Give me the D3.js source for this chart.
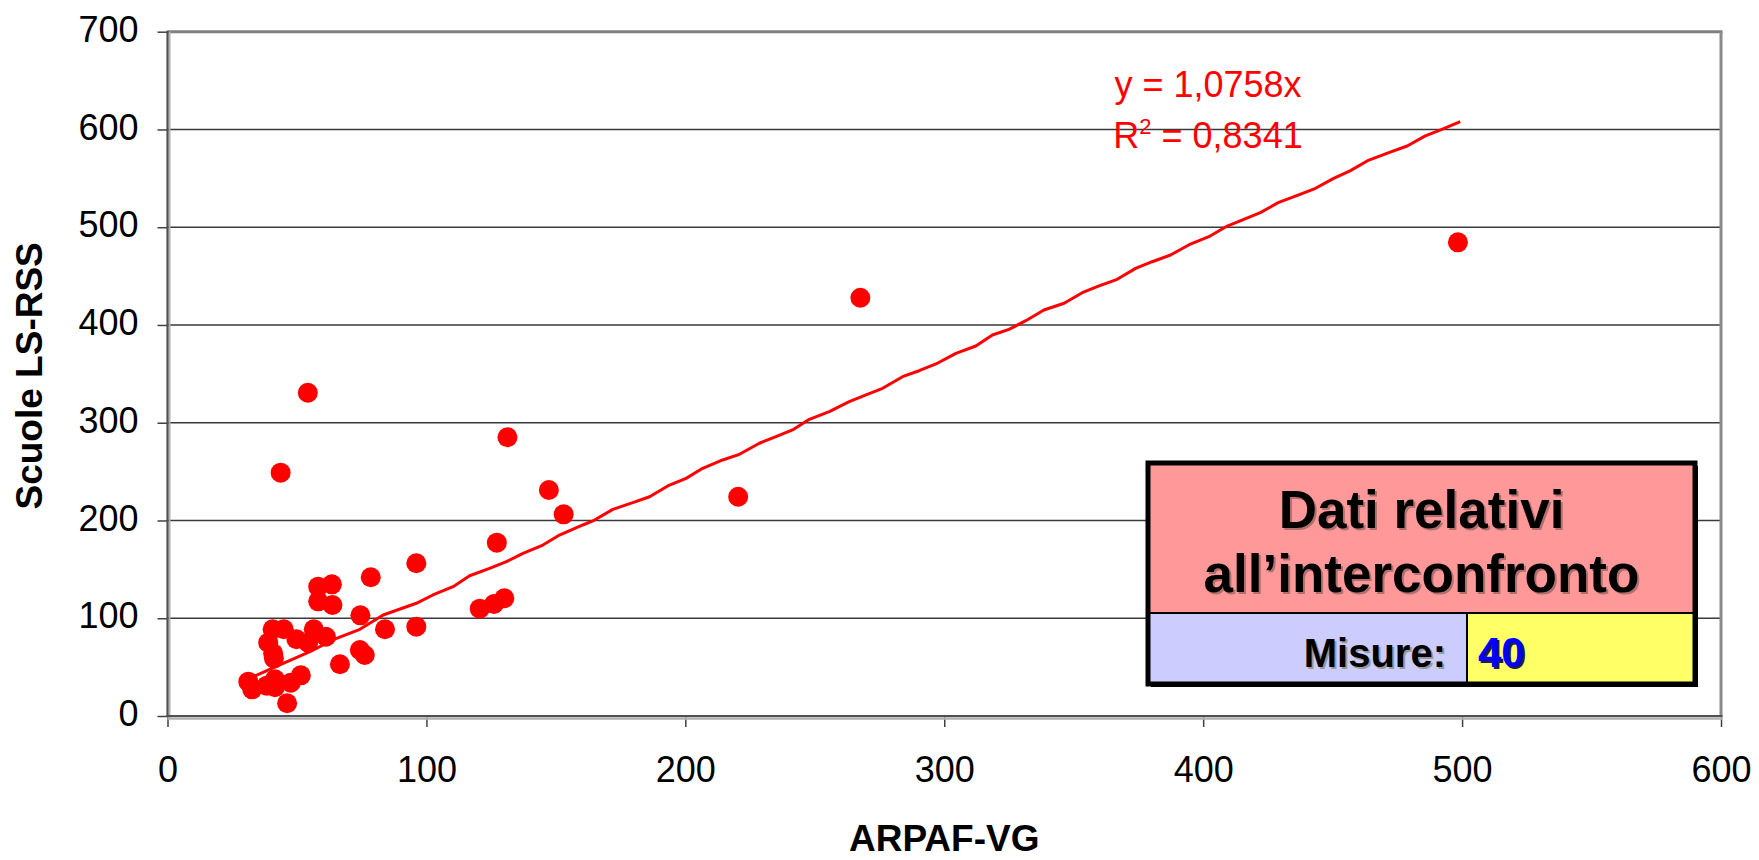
<!DOCTYPE html>
<html>
<head>
<meta charset="utf-8">
<script src="https://cdn.jsdelivr.net/npm/d3@7"></script>
<style>
	body { margin: 0; background: #fff; }
	text { font-family: "Liberation Sans", Arial, sans-serif; }
</style>
</head>
<body>
<div class="scatter-plot"></div>
<script>
// measured points (ARPAF-VG, Scuole LS-RSS)
const arpaf = [31.2, 32.7, 38.3, 38.9, 40.6, 40.8, 41.1, 41.5, 41.5, 43.7, 44.9, 46.2, 47.6, 49.8, 51.5, 54.3, 54.2, 56.5, 58.2, 58.2, 61.2, 63.5, 63.7, 66.6, 74.3, 74.5, 76.2, 78.5, 84, 96.1, 96.1, 120.6, 126.1, 127.2, 130.1, 131.3, 147.3, 153, 220.4, 267.6, 498.4];
const scuole = [35.1, 27.3, 31, 75, 88.7, 64.1, 59, 37.5, 29.4, 248.9, 88.7, 13, 34.1, 78.5, 41.6, 75, 330.7, 88.7, 132.3, 117.3, 81.1, 134.7, 113.5, 52.9, 67.5, 103, 62.4, 141.9, 88.7, 156.2, 91.4, 109.8, 114.6, 177.3, 120.4, 285.1, 231.2, 206.3, 224.3, 427.9, 484.5];

// trend line vertices as drawn in the picture
const trendX = [33.1, 44.7, 55, 65.3, 74.3, 83.3, 96.1, 102.5, 110.3, 116.7, 124.4, 130.9, 137.3, 145, 151.4, 160.4, 164.3, 172, 179.7, 186.2, 193.2, 200.3, 206.7, 214.4, 220.9, 228.6, 235, 241.4, 247.9, 255.6, 263.3, 269.8, 276.2, 283.9, 290.3, 296.8, 304.5, 312.2, 318.6, 325, 331.5, 338.5, 346.3, 353.3, 359.8, 366.8, 373.9, 380.3, 387.4, 395.1, 402.2, 409.3, 415.7, 422.1, 429.2, 436.9, 443.4, 450.4, 456.9, 464, 471.7, 478.8, 485.8, 492.2, 499.3];
const trendY = [40.2, 53.9, 65.8, 79.5, 88.7, 103.3, 115.3, 123.8, 132.3, 143.5, 151, 157.9, 166.4, 174.9, 185.1, 195.4, 199.5, 211.4, 218.2, 224.3, 235.3, 243.1, 253.4, 261.9, 267.7, 279, 285.7, 292.6, 303.5, 311.3, 321.5, 328.4, 335.2, 347.1, 353.2, 360.1, 371, 378.5, 389.7, 395.5, 404.4, 415.3, 422.2, 433, 439.9, 446.7, 457.9, 464.7, 471.6, 482.8, 490.3, 501.2, 508.1, 514.9, 525.5, 533, 539.8, 550, 557.9, 568.7, 576.3, 583.1, 593.4, 600.1, 607.9];

const xTicks = [0, 100, 200, 300, 400, 500, 600];
const yTicks = [0, 100, 200, 300, 400, 500, 600, 700];
const trendLabels = ["y = 1,0758x", "0,8341"];
const boxTitle = ["Dati relativi", "all\u2019interconfronto"];
const misure = 40;

function charting() {
	const width = 1759;
	const height = 860;
	const left = 167.5, right = 1721, top = 31.7, bottom = 716;

	const svg = d3.select('.scatter-plot')
		.append('svg')
		.attr('width', width)
		.attr('height', height);

	const x = d3.scaleLinear().domain([0, 600]).range([left, right]);
	const y = d3.scaleLinear().domain([0, 700]).range([bottom, top]);

	// gridlines
	svg.selectAll('.grid')
		.data(yTicks.filter(d => d > 0 && d < 700))
		.enter()
		.append('line')
		.attr('x1', left).attr('x2', right)
		.attr('y1', d => y(d)).attr('y2', d => y(d))
		.attr('stroke', '#3a3a3a')
		.attr('stroke-width', 1.5);

	// plot frame top / right
	svg.append('line')
		.attr('x1', left).attr('x2', right + 1.5)
		.attr('y1', y(700)).attr('y2', y(700))
		.attr('stroke', '#808080').attr('stroke-width', 3);
	svg.append('line')
		.attr('x1', right).attr('x2', right)
		.attr('y1', y(700)).attr('y2', bottom)
		.attr('stroke', '#8a8a8a').attr('stroke-width', 3);

	// axes
	const yAxis = svg.append('g')
		.attr('transform', `translate(${left},0)`)
		.call(d3.axisLeft(y).tickValues(yTicks).tickSize(10).tickPadding(19));
	const xAxis = svg.append('g')
		.attr('transform', `translate(0,${bottom})`)
		.call(d3.axisBottom(x).tickValues(xTicks).tickSize(11).tickPadding(29));

	[yAxis, xAxis].forEach(g => {
		g.select('.domain').remove();
		g.selectAll('line').attr('stroke', '#404040').attr('stroke-width', 1.5);
		g.selectAll('text')
			.attr('fill', '#000')
			.style('font-size', '36px')
			.style('font-family', '"Liberation Sans", Arial, sans-serif');
	});
	yAxis.selectAll('text').attr('dy', '0.27em');

	// axis lines with light shadow
	svg.append('line')
		.attr('x1', left + 2).attr('x2', left + 2)
		.attr('y1', y(700)).attr('y2', bottom + 2)
		.attr('stroke', '#b0b0b0').attr('stroke-width', 2);
	svg.append('line')
		.attr('x1', left).attr('x2', left)
		.attr('y1', y(700) - 1).attr('y2', bottom)
		.attr('stroke', '#505050').attr('stroke-width', 2.2);
	svg.append('line')
		.attr('x1', left).attr('x2', right + 1.5)
		.attr('y1', bottom + 2.5).attr('y2', bottom + 2.5)
		.attr('stroke', '#b0b0b0').attr('stroke-width', 2.5);
	svg.append('line')
		.attr('x1', left - 1).attr('x2', right + 1.5)
		.attr('y1', bottom).attr('y2', bottom)
		.attr('stroke', '#505050').attr('stroke-width', 2.2);

	// axis titles
	svg.append('text')
		.attr('x', (left + right) / 2)
		.attr('y', 851)
		.attr('text-anchor', 'middle')
		.style('font-size', '37px')
		.style('font-weight', 'bold')
		.text('ARPAF-VG');
	svg.append('text')
		.attr('transform', `translate(42,${(top + bottom) / 2 + 2}) rotate(-90)`)
		.attr('text-anchor', 'middle')
		.style('font-size', '37px')
		.style('font-weight', 'bold')
		.text('Scuole LS-RSS');

	// points
	const points = arpaf.map((d, i) => ({ x: d, y: scuole[i] }));
	svg.selectAll('circle')
		.data(points)
		.enter()
		.append('circle')
		.attr('cx', d => x(d.x))
		.attr('cy', d => y(d.y))
		.attr('r', 10)
		.attr('fill', '#ff0000');

	// trend line
	const trend = trendX.map((d, i) => [d, trendY[i]]);
	svg.append('path')
		.datum(trend)
		.attr('d', d3.line().x(d => x(d[0])).y(d => y(d[1])))
		.attr('fill', 'none')
		.attr('stroke', '#ff0000')
		.attr('stroke-width', 3)
		.attr('stroke-linejoin', 'round');

	// trend label
	svg.append('text')
		.attr('x', 1208).attr('y', 97)
		.attr('text-anchor', 'middle')
		.attr('fill', '#ff0000')
		.style('font-size', '36px')
		.text(trendLabels[0]);
	const r2 = svg.append('text')
		.attr('x', 1208).attr('y', 148)
		.attr('text-anchor', 'middle')
		.attr('fill', '#ff0000')
		.style('font-size', '36px');
	r2.append('tspan').text('R');
	r2.append('tspan').attr('dy', -14).style('font-size', '22px').text('2');
	r2.append('tspan').attr('dy', 14).text(' = ' + trendLabels[1]);

	// info box
	const bx0 = 1148, bx1 = 1695, by0 = 463, by1 = 684, bmid = 613, bcol = 1467;
	svg.append('rect')
		.attr('x', bx0 + 3).attr('y', by0 + 3)
		.attr('width', bx1 - bx0).attr('height', by1 - by0)
		.attr('fill', '#000');
	svg.append('rect')
		.attr('x', bx0).attr('y', by0)
		.attr('width', bx1 - bx0).attr('height', bmid - by0)
		.attr('fill', '#ff9999');
	svg.append('rect')
		.attr('x', bx0).attr('y', bmid)
		.attr('width', bcol - bx0).attr('height', by1 - bmid)
		.attr('fill', '#ccccff');
	svg.append('rect')
		.attr('x', bcol).attr('y', bmid)
		.attr('width', bx1 - bcol).attr('height', by1 - bmid)
		.attr('fill', '#ffff66');
	svg.append('line')
		.attr('x1', bx0).attr('x2', bx1)
		.attr('y1', bmid).attr('y2', bmid)
		.attr('stroke', '#000').attr('stroke-width', 2);
	svg.append('line')
		.attr('x1', bcol).attr('x2', bcol)
		.attr('y1', bmid).attr('y2', by1)
		.attr('stroke', '#000').attr('stroke-width', 2);
	svg.append('rect')
		.attr('x', bx0).attr('y', by0)
		.attr('width', bx1 - bx0).attr('height', by1 - by0)
		.attr('fill', 'none')
		.attr('stroke', '#000')
		.attr('stroke-width', 5);

	// texts with a soft drop shadow
	function shadowText(tx, ty, str, size, anchor, color, shade) {
		[[2, 2, shade], [0, 0, color]].forEach(s => {
			svg.append('text')
				.attr('x', tx + s[0]).attr('y', ty + s[1])
				.attr('text-anchor', anchor)
				.attr('fill', s[2])
				.style('font-size', size + 'px')
				.style('font-weight', 'bold')
				.text(str);
		});
	}
	shadowText((bx0 + bx1) / 2, 528, boxTitle[0], 53, 'middle', '#000', '#b07070');
	shadowText((bx0 + bx1) / 2, 592, boxTitle[1], 53, 'middle', '#000', '#b07070');
	shadowText(1446, 667, 'Misure:', 40, 'end', '#000', '#999999');
	shadowText(1478, 667, misure, 42, 'start', '#0000ff', '#202040');
}

charting();
</script>
</body>
</html>
